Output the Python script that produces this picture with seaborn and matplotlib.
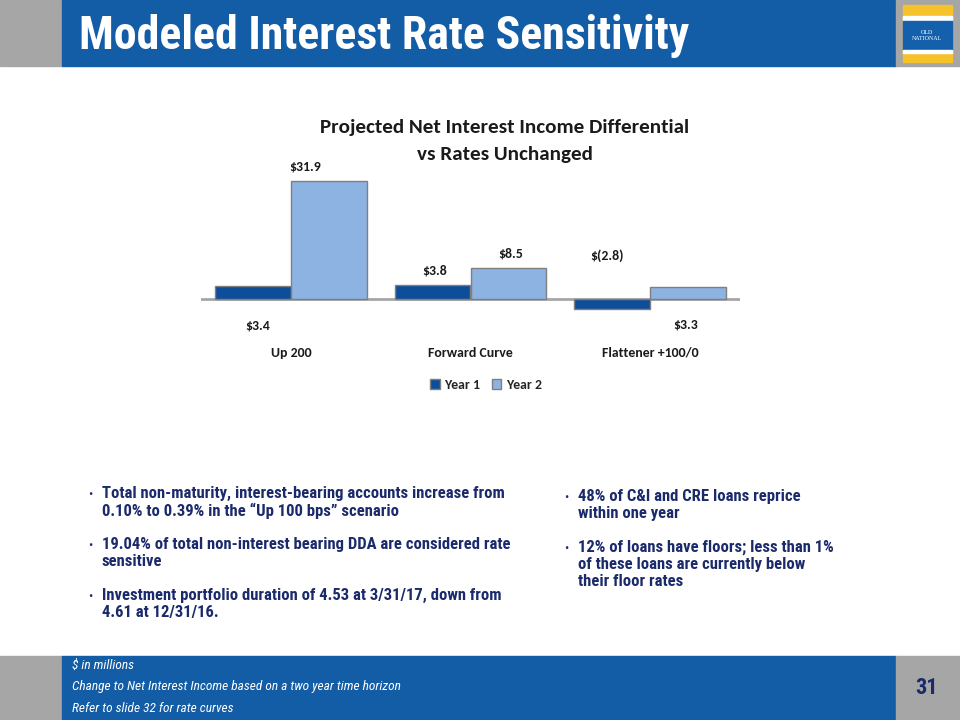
import matplotlib
matplotlib.use("Agg")
import matplotlib.pyplot as plt
from matplotlib.patches import Rectangle
import seaborn as sns
import pandas as pd

# Chart data ($ in millions)
scenarios = ["Up 200", "Forward Curve", "Flattener +100/0"]
year1 = [3.4, 3.8, -2.8]
year2 = [31.9, 8.5, 3.3]
year1_labels = ["$3.4", "$3.8", "$(2.8)"]
year2_labels = ["$31.9", "$8.5", "$3.3"]
series_names = ["Year 1", "Year 2"]

left_bullets = [
    "Total non-maturity, interest-bearing accounts increase from\n0.10% to 0.39% in the \u201cUp 100 bps\u201d scenario",
    "19.04% of total non-interest bearing DDA are considered rate\nsensitive",
    "Investment portfolio duration of 4.53 at 3/31/17, down from\n4.61 at 12/31/16.",
]
right_bullets = [
    "48% of C&I and CRE loans reprice\nwithin one year",
    "12% of loans have floors; less than 1%\nof these loans are currently below\ntheir floor rates",
]
footnotes = [
    "$ in millions",
    "Change to Net Interest Income based on a two year time horizon",
    "Refer to slide 32 for rate curves",
]

W, H = 960, 720
BLUE = "#135DA6"
GRAY = "#A6A6A6"
NAVY = "#1B2A6B"
Y1_COLOR = "#0E4E98"
Y2_COLOR = "#8DB3E2"
NARROW = ["Roboto Condensed", "PT Sans Narrow", "DejaVu Sans"]
BODY = ["Carlito", "Lato", "DejaVu Sans"]


def fx(x):
    return x / W


def fy(y):
    return 1 - y / H


def band(fig, x0, y0, x1, y1, color):
    fig.patches.append(Rectangle((fx(x0), fy(y1)), fx(x1 - x0), (y1 - y0) / H,
                                 transform=fig.transFigure, color=color, zorder=0))


sns.set_theme(style="white")
fig = plt.figure(figsize=(9.6, 7.2), dpi=100)

# header and footer bands
band(fig, 0, 0, 62, 66, GRAY)
band(fig, 62, 0, 896, 66, BLUE)
band(fig, 896, 0, 960, 66, GRAY)
band(fig, 0, 656, 62, 720, GRAY)
band(fig, 62, 656, 896, 720, BLUE)
band(fig, 896, 656, 960, 720, GRAY)

# logo
band(fig, 903, 5, 952, 62, "#F5C22B")
band(fig, 903, 16, 952, 20, "white")
band(fig, 903, 21, 952, 50, "#1560AC")
band(fig, 903, 50, 952, 53, "white")
fig.text(fx(927), fy(35.5), "OLD\nNATIONAL", color="white", fontsize=4.3,
         family=["Liberation Serif", "DejaVu Serif"], ha="center", va="center",
         linespacing=1.0)

fig.text(fx(79), fy(36), "Modeled Interest Rate Sensitivity", color="white",
         fontsize=33, fontweight="bold", family=NARROW, va="center", ha="left")

# chart
df = pd.DataFrame({
    "scenario": scenarios * 2,
    "value": year1 + year2,
    "year": [series_names[0]] * len(scenarios) + [series_names[1]] * len(scenarios),
})
ax = fig.add_axes([fx(201), 1 - 317.5 / H, fx(740 - 201), 148 / H])
sns.barplot(data=df, x="scenario", y="value", hue="year",
            palette=[Y1_COLOR, Y2_COLOR], width=0.845, saturation=1,
            edgecolor="#7F7F7F", linewidth=1.0, ax=ax)
ax.set_xlim(-0.5, 2.5)
ax.set_ylim(-5, 35)
ax.axhline(0, color="#A6A6A6", lw=2, zorder=0.5)
for s in ax.spines.values():
    s.set_visible(False)
ax.set_yticks([])
ax.set_xlabel("")
ax.set_ylabel("")
ax.tick_params(axis="x", length=0, pad=21)
for t in ax.get_xticklabels():
    t.set_fontfamily(BODY)
    t.set_fontweight("bold")
    t.set_fontsize(10)
    t.set_color("#1A1A1A")
ax.patch.set_alpha(0)

# data labels: offset (pixels) from the top of each bar / baseline
label_offsets = [[-39, 14, 43], [14, 14, -38]]
label_dx = [[5, 2, -5], [-24, 2, -2]]
for ci, (cont, labels) in enumerate(zip(ax.containers, [year1_labels, year2_labels])):
    for bi, (bar, lab) in enumerate(zip(cont, labels)):
        top = max(bar.get_y() + bar.get_height(), 0)
        ax.annotate(lab, (bar.get_x() + bar.get_width() / 2, top),
                    xytext=(label_dx[ci][bi] * 0.72, label_offsets[ci][bi] * 0.72),
                    textcoords="offset points", ha="center", va="center",
                    fontsize=10, fontweight="bold", family=BODY, color="#1A1A1A",
                    annotation_clip=False)

fig.text(fx(505), fy(141), "Projected Net Interest Income Differential\nvs Rates Unchanged",
         ha="center", va="center", fontsize=15.2, fontweight="bold", family=BODY,
         color="#1A1A1A", linespacing=1.75)

sns.move_legend(ax, "center", bbox_to_anchor=(fx(486), fy(385)),
                bbox_transform=fig.transFigure, ncol=2, frameon=False, title=None,
                handlelength=0.7, handleheight=0.7, handletextpad=0.35,
                columnspacing=0.8, prop={"family": BODY, "weight": "bold", "size": 10})

# bullet text
for i, txt in enumerate(left_bullets):
    y = 486 + i * 51
    fig.text(fx(88), fy(y + 2), "\u2022", color=NAVY, fontsize=9, va="top", family=NARROW)
    fig.text(fx(102), fy(y), txt, color=NAVY, fontsize=12, fontweight="bold",
             family=NARROW, va="top", linespacing=1.15)
for i, txt in enumerate(right_bullets):
    y = 489 + i * 51
    fig.text(fx(564), fy(y + 2), "\u2022", color=NAVY, fontsize=9, va="top", family=NARROW)
    fig.text(fx(578), fy(y), txt, color=NAVY, fontsize=12, fontweight="bold",
             family=NARROW, va="top", linespacing=1.15)

# footer
for i, txt in enumerate(footnotes):
    fig.text(fx(72), fy(665 + i * 21.5), txt, color="white", fontsize=9.6, style="italic",
             family=NARROW, va="center")
fig.text(fx(926), fy(688), "31", color=NAVY, fontsize=16, fontweight="bold",
         family=NARROW, ha="center", va="center")

fig.savefig("out.png", dpi=100)
